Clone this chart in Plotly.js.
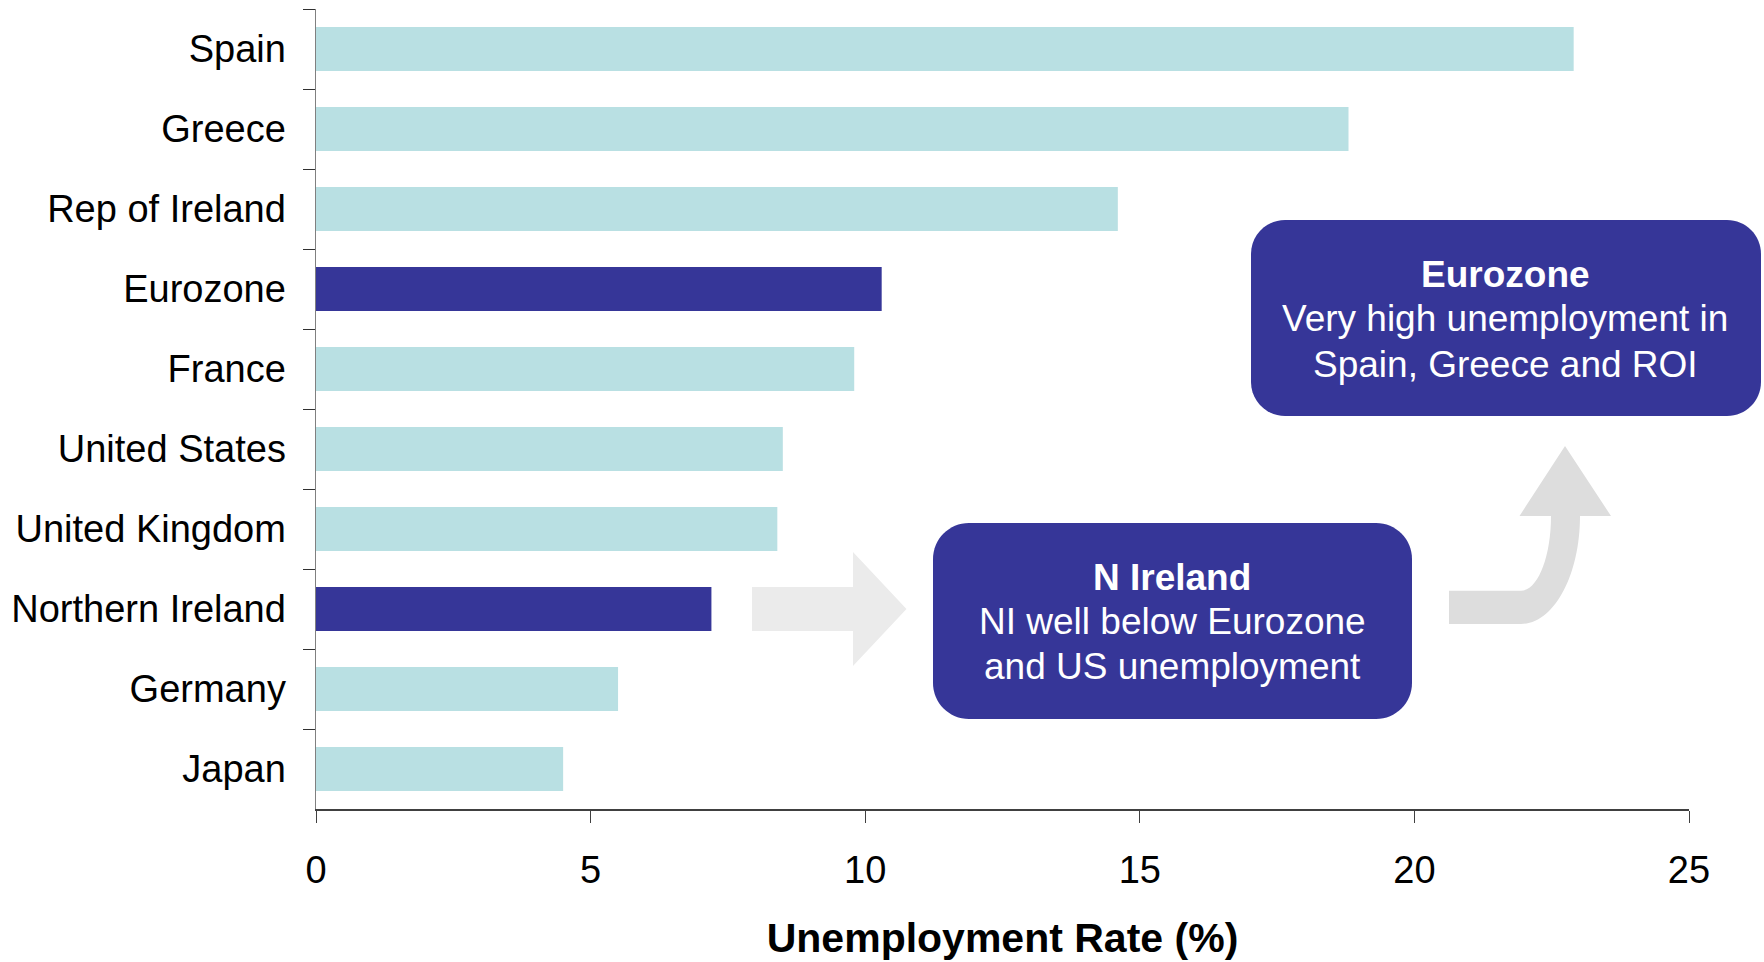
<!DOCTYPE html>
<html>
<head>
<meta charset="utf-8">
<script src="https://cdn.plot.ly/plotly-3.0.1.min.js"></script>
<style>html,body{margin:0;padding:0;background:#fff;}#chart{width:1764px;height:962px;}</style>
</head>
<body>
<div id="chart"></div>
<script>
// ---- data ----
const countries = ["Spain", "Greece", "Rep of Ireland", "Eurozone", "France", "United States", "United Kingdom", "Northern Ireland", "Germany", "Japan"];
const unemploymentRate = [22.9, 18.8, 14.6, 10.3, 9.8, 8.5, 8.4, 7.2, 5.5, 4.5];
const highlighted = ["Eurozone", "Northern Ireland"];
const xTicks = [0, 5, 10, 15, 20, 25];
const xTitle = "Unemployment Rate (%)";
const noteNI = ["N Ireland", "NI well below Eurozone", "and US unemployment"];
const noteEZ = ["Eurozone", "Very high unemployment in", "Spain, Greece and ROI"];

// ---- styling ----
const LIGHT = "#B9E0E3", DARK = "#363698";
const FONT = "'Liberation Sans', Arial, Helvetica, sans-serif";
const W = 1764, H = 962;
const M = {l: 316, r: 75, t: 9, b: 153};
const PW = W - M.l - M.r, PH = H - M.t - M.b;

function P(x, y) { return ((x - M.l) / PW).toFixed(5) + "," + ((H - M.b - y) / PH).toFixed(5); }
function roundRect(x0, y0, x1, y1, r) {
  const k = 0.5523 * r;
  return "M" + P(x0 + r, y0) + " L" + P(x1 - r, y0) +
    " C" + P(x1 - r + k, y0) + " " + P(x1, y0 + r - k) + " " + P(x1, y0 + r) +
    " L" + P(x1, y1 - r) +
    " C" + P(x1, y1 - r + k) + " " + P(x1 - r + k, y1) + " " + P(x1 - r, y1) +
    " L" + P(x0 + r, y1) +
    " C" + P(x0 + r - k, y1) + " " + P(x0, y1 - r + k) + " " + P(x0, y1 - r) +
    " L" + P(x0, y0 + r) +
    " C" + P(x0, y0 + r - k) + " " + P(x0 + r - k, y0) + " " + P(x0 + r, y0) + " Z";
}
function poly(pts) { return "M" + pts.map(p => P(p[0], p[1])).join(" L") + " Z"; }

const arrowRight = poly([[752, 587], [853, 587], [853, 552], [906.5, 609], [853, 666], [853, 631], [752, 631]]);
const arrowUp = "M" + P(1449, 624) + " L" + P(1521, 624) +
  " C" + P(1553.6, 624) + " " + P(1580, 575.6) + " " + P(1580, 516) +
  " L" + P(1611, 516) + " L" + P(1565, 446) + " L" + P(1519.5, 516) + " L" + P(1551, 516) +
  " C" + P(1551, 557.4) + " " + P(1537.6, 590.7) + " " + P(1521, 590.7) +
  " L" + P(1449, 590.7) + " Z";

const shapes = [
  {type: "path", xref: "paper", yref: "paper", path: arrowRight, fillcolor: "#EBEBEB", line: {width: 0}},
  {type: "path", xref: "paper", yref: "paper", path: arrowUp, fillcolor: "#DDDDDD", line: {width: 0}},
  {type: "path", xref: "paper", yref: "paper", path: roundRect(933, 523, 1412, 719, 36), fillcolor: DARK, line: {width: 0}},
  {type: "path", xref: "paper", yref: "paper", path: roundRect(1251, 220, 1761, 416, 34), fillcolor: DARK, line: {width: 0}}
];

function noteAnns(lines, cx, ys) {
  return lines.map((t, i) => ({
    xref: "paper", yref: "paper", x: (cx - M.l) / PW, y: (H - M.b - ys[i]) / PH,
    xanchor: "center", yanchor: "middle", showarrow: false,
    text: i === 0 ? "<b>" + t + "</b>" : t,
    font: {family: FONT, size: 37, color: "#ffffff"}
  }));
}
const annotations = [].concat(
  noteAnns(noteNI, 1172, [577, 621, 666]),
  noteAnns(noteEZ, 1505, [274, 319, 364])
);

const trace = {
  type: "bar", orientation: "h",
  y: countries, x: unemploymentRate,
  width: 0.55,
  marker: {color: countries.map(c => highlighted.includes(c) ? DARK : LIGHT), line: {width: 0}},
  hoverinfo: "x+y"
};

const layout = {
  width: W, height: H,
  margin: M,
  paper_bgcolor: "#ffffff", plot_bgcolor: "#ffffff",
  showlegend: false,
  font: {family: FONT, color: "#000000"},
  bargap: 0.45,
  xaxis: {
    range: [0, 25], tickvals: xTicks, ticktext: xTicks.map(String),
    showgrid: false, zeroline: false,
    showline: true, linecolor: "#404040", linewidth: 1.5,
    ticks: "outside", ticklen: 12, tickwidth: 1, tickcolor: "#404040",
    ticklabelstandoff: 15,
    tickfont: {family: FONT, size: 38, color: "#000"},
    title: {text: "<b>" + xTitle + "</b>", font: {family: FONT, size: 41, color: "#000"}, standoff: 33},
    automargin: false, fixedrange: true
  },
  yaxis: {
    autorange: "reversed", type: "category",
    showgrid: false, zeroline: false,
    showline: true, linecolor: "#808080", linewidth: 1.5,
    ticks: "outside", tickson: "boundaries", ticklen: 12, tickwidth: 1, tickcolor: "#303030",
    ticklabelstandoff: 21,
    tickfont: {family: FONT, size: 38, color: "#000"},
    automargin: false, fixedrange: true
  },
  shapes: shapes,
  annotations: annotations
};

Plotly.newPlot("chart", [trace], layout, {displayModeBar: false, staticPlot: true});
</script>
</body>
</html>
